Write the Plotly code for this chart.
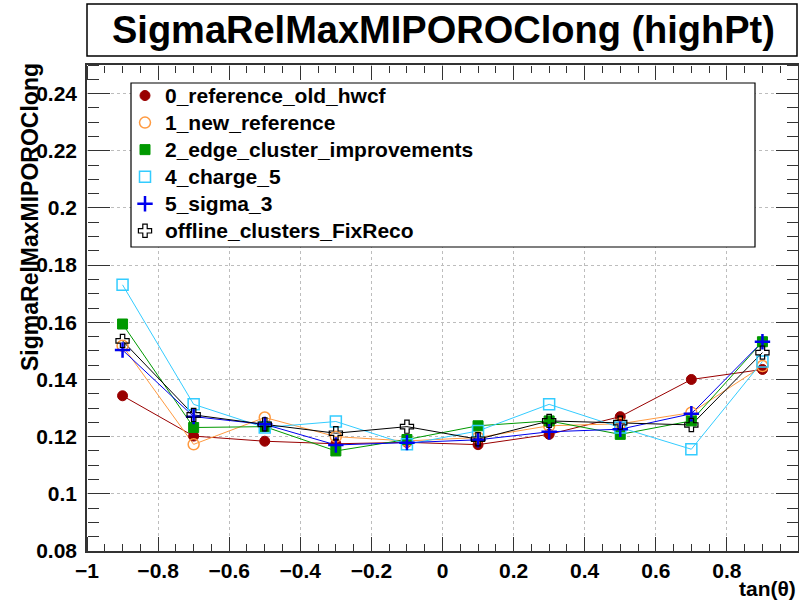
import plotly.graph_objects as go

x_vals = [-0.9, -0.7, -0.5, -0.3, -0.1, 0.1, 0.3, 0.5, 0.7, 0.9]

names = ["0_reference_old_hwcf", "1_new_reference", "2_edge_cluster_improvements",
         "4_charge_5", "5_sigma_3", "offline_clusters_FixReco"]

s0 = [0.1343, 0.1202, 0.1184, 0.1175, 0.1180, 0.1172, 0.1208, 0.1270, 0.1400, 0.1435]
s1 = [0.1518, 0.1173, 0.1267, 0.1200, 0.1185, 0.1197, 0.1238, 0.1245, 0.1284, 0.1447]
s2 = [0.1594, 0.1232, 0.1235, 0.1150, 0.1190, 0.1238, 0.1255, 0.1208, 0.1255, 0.1532]
s4 = [0.1731, 0.1313, 0.1232, 0.1253, 0.1173, 0.1220, 0.1313, 0.1232, 0.1156, 0.1463]
s5 = [0.1503, 0.1270, 0.1243, 0.1171, 0.1179, 0.1189, 0.1217, 0.1226, 0.1280, 0.1532]
s6 = [0.1535, 0.1276, 0.1243, 0.1212, 0.1235, 0.1191, 0.1255, 0.1249, 0.1241, 0.1494]
series = [s0, s1, s2, s4, s5, s6]

colors = ["#990000", "#ff9a40", "#009900", "#33ccff", "#0000ee", "#000000"]
symbols = ["circle", "circle-open", "square", "square-open", "cross-thin-open", "cross-open"]
sizes = [10, 11, 10, 11, 11, 11]
mlw = [1, 1.5, 1, 1.5, 2.5, 1.2]

X_RANGE = [-1, 1]
Y_RANGE = [0.08, 0.25]

W, H = 799, 600
L, R, T, B = 87, 1, 65, 49
PW = W - L - R
PH = H - T - B


def px(p):
    return (p - L) / PW


def py(p):
    return (H - B - p) / PH


FONT = "Liberation Sans, Arial, sans-serif"
TICKC = "#333333"

fig = go.Figure()
for name, ys, c in zip(names, series, colors):
    fig.add_trace(go.Scatter(x=x_vals, y=ys, mode="lines", line=dict(color=c, width=1),
                             showlegend=False, hoverinfo="skip", xaxis="x", yaxis="y"))
for name, ys, c, sym, sz, lw in zip(names, series, colors, symbols, sizes, mlw):
    fig.add_trace(go.Scatter(x=x_vals, y=ys, mode="markers",
                             name='<span style="font-size:21px">' + name + '</span>',
                             marker=dict(symbol=sym, size=sz, color=c,
                                         line=dict(color=c, width=lw)),
                             xaxis="x2", yaxis="y2"))
# empty trace so the mirrored tick axes form a subplot
fig.add_trace(go.Scatter(x=[], y=[], xaxis="x3", yaxis="y3", showlegend=False, hoverinfo="skip"))

tickfont = dict(family=FONT, size=21, color="black", weight="bold")


def tick_axis(rng, t0, major, minor, maj_len, min_len, **kw):
    return dict(range=rng, tickmode="linear", tick0=t0, dtick=major,
                ticks="outside", ticklen=maj_len, tickwidth=1.2, tickcolor=TICKC,
                minor=dict(tick0=t0, dtick=minor, ticks="outside", ticklen=min_len,
                           tickwidth=1.2, tickcolor=TICKC, showgrid=False),
                showticklabels=False, showgrid=False, showline=False, zeroline=False,
                automargin=False, fixedrange=True, **kw)


fig.update_layout(
    xaxis=dict(range=X_RANGE, tick0=-1, dtick=0.2, tickmode="linear", ticks="",
               showline=True, linecolor=TICKC, linewidth=1.5, mirror=True,
               showgrid=True, gridcolor="#bdbdbd", griddash="dot", gridwidth=1,
               zeroline=False, tickfont=tickfont, automargin=False),
    yaxis=dict(range=Y_RANGE, tick0=0.08, dtick=0.02, tickmode="linear", ticks="",
               showline=True, linecolor=TICKC, linewidth=1.5, mirror=True,
               showgrid=True, gridcolor="#bdbdbd", griddash="dot", gridwidth=1,
               zeroline=False, tickfont=tickfont, ticklabelstandoff=4, automargin=False),
    # inward-pointing ticks on the bottom / left edges
    xaxis2=tick_axis(X_RANGE, -1, 0.2, 0.05, 14, 7, overlaying="x", anchor="free",
                     position=0, side="top"),
    yaxis2=tick_axis(Y_RANGE, 0.08, 0.02, 0.005, 22, 11, overlaying="y", anchor="free",
                     position=0, side="right"),
    # inward-pointing ticks on the top / right edges
    xaxis3=tick_axis(X_RANGE, -1, 0.2, 0.05, 14, 7, overlaying="x", anchor="free",
                     position=1, side="bottom"),
    yaxis3=tick_axis(Y_RANGE, 0.08, 0.02, 0.005, 22, 11, overlaying="y", anchor="free",
                     position=1, side="left"),
)

shapes = [
    dict(type="rect", xref="paper", yref="paper", x0=px(87), x1=px(797), y0=py(56), y1=py(4),
         line=dict(color="black", width=1.5), fillcolor="white", layer="above"),
    dict(type="rect", xref="paper", yref="paper", x0=px(131), x1=px(755), y0=py(247), y1=py(83),
         line=dict(color="black", width=1.2), fillcolor="white", layer="above"),
]

annotations = [
    dict(text="SigmaRelMaxMIPOROClong (highPt)", xref="paper", yref="paper",
         x=px(443), y=py(30), xanchor="center", yanchor="middle", showarrow=False,
         font=dict(family=FONT, size=38, color="black", weight="bold")),
    dict(text="SigmaRelMaxMIPOROClong", xref="paper", yref="paper",
         x=px(30), y=py(61), xanchor="center", yanchor="top", textangle=-90, showarrow=False,
         font=dict(family=FONT, size=23, color="black", weight="bold")),
    dict(text="tan(θ)", xref="paper", yref="paper",
         x=px(798), y=py(588), xanchor="right", yanchor="middle", showarrow=False,
         font=dict(family=FONT, size=21, color="black", weight="bold")),
]

fig.update_layout(
    width=W, height=H,
    margin=dict(l=L, r=R, t=T, b=B),
    paper_bgcolor="white", plot_bgcolor="white",
    shapes=shapes, annotations=annotations,
    legend=dict(x=px(125), y=py(77), xanchor="left", yanchor="top",
                bgcolor="rgba(0,0,0,0)", borderwidth=0,
                font=dict(family=FONT, size=18.5, color="black", weight="bold"),
                itemwidth=30, traceorder="normal"),
    showlegend=True,
)

fig.write_html("out.html")
